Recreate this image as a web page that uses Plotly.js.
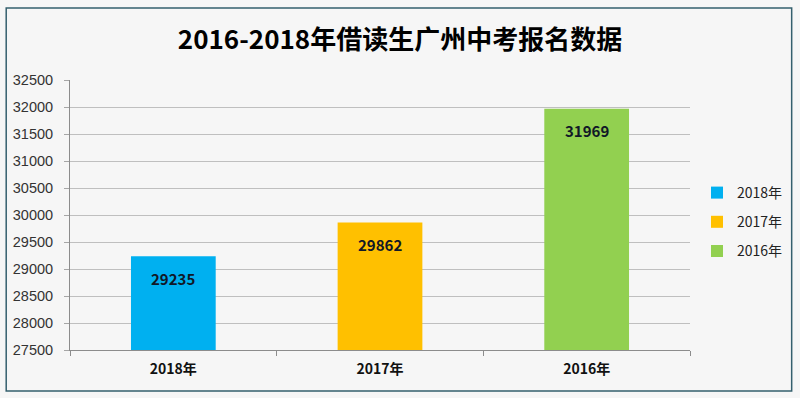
<!DOCTYPE html>
<html><head><meta charset="utf-8">
<script src="https://cdn.plot.ly/plotly-3.0.1.min.js"></script>
<style>html,body{margin:0;padding:0;background:#fff}#c{width:800px;height:398px}</style>
</head><body><div id="c"></div>
<script>
const categories = ['2018年','2017年','2016年'];
const values = [29235, 29862, 31969];
const seriesNames = ['2018年','2017年','2016年'];
const colors = ['#00B0F0','#FFC000','#92D050'];
const yTicks = [27500,28000,28500,29000,29500,30000,30500,31000,31500,32000,32500];

const traces = categories.map((c,i)=>({
  type:'bar', x:[c], y:[values[i]], name:seriesNames[i],
  marker:{color:colors[i]}, legendgroup:'g'+i, hoverinfo:'skip'
}));
const annotations = categories.map((c,i)=>({
  x:c, y:values[i], xref:'x', yref:'y', text:String(values[i]), showarrow:false,
  yshift:-22, font:{family:'Noto Sans CJK SC, sans-serif', size:15, color:'#111827', weight:700}
}));
const W=622,H=270,L=70,T=80;
const layout = {
  width:800, height:398,
  margin:{l:70, r:108, t:80, b:48},
  paper_bgcolor:'#f6f6f6', plot_bgcolor:'#f6f6f6',
  title:{text:'<b>2016-2018年借读生广州中考报名数据</b>', x:0.5, xanchor:'center', y:0.9, yanchor:'middle',
    font:{family:'Noto Sans CJK SC, sans-serif', size:26, color:'#000'}},
  barmode:'overlay', bargap:0.59,
  xaxis:{type:'category', categoryarray:categories, tickson:'boundaries', ticks:'outside', ticklen:5,
    tickcolor:'#8c8c8c', showline:true, linecolor:'#8c8c8c', linewidth:1, showgrid:false,
    ticklabelstandoff:6,
    tickfont:{family:'Noto Sans CJK SC, sans-serif', size:14, color:'#111', weight:700}},
  yaxis:{range:[27500,32500], tickvals:yTicks, ticktext:yTicks.map(String), ticks:'outside', ticklen:5,
    tickcolor:'#a6a6a6', showline:true, linecolor:'#8c8c8c', linewidth:1,
    gridcolor:'#bfbfbf', gridwidth:1, zeroline:false, ticklabelstandoff:8,
    tickfont:{family:'Liberation Sans, Arial, sans-serif', size:14.5, color:'#333'}},
  legend:{x:(699-L)/W, xanchor:'left', y:(350-222)/H, yanchor:'middle', bgcolor:'rgba(0,0,0,0)',
    tracegroupgap:8, font:{family:'Noto Sans CJK SC, sans-serif', size:14, color:'#222'}},
  annotations:annotations,
  shapes:[{type:'rect', xref:'paper', yref:'paper',
    x0:(6-L)/W, x1:(794-L)/W, y0:(350-391)/H, y1:(350-8)/H,
    line:{color:'#35606e', width:1.5}, fillcolor:'rgba(0,0,0,0)', layer:'below'}]
};
Plotly.newPlot('c', traces, layout, {displayModeBar:false, staticPlot:true});
</script></body></html>
